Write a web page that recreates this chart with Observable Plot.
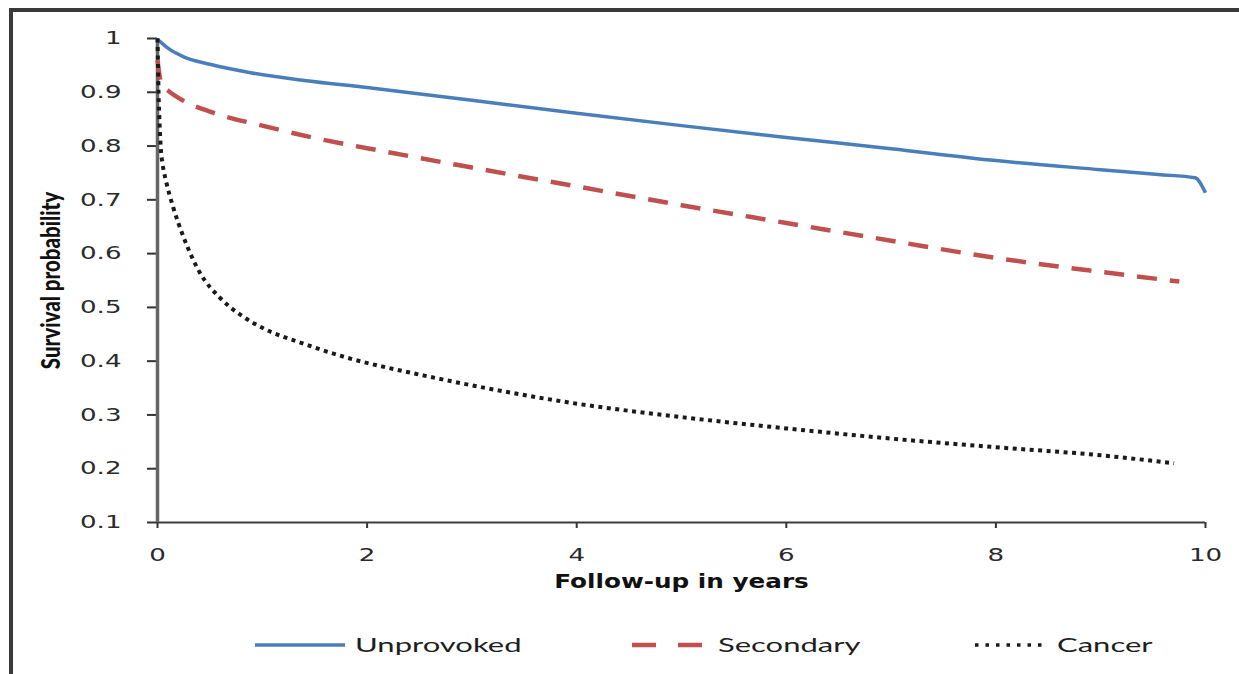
<!DOCTYPE html>
<html>
<head>
<meta charset="utf-8">
<script src="https://cdn.jsdelivr.net/npm/d3@7"></script>
<script src="https://cdn.jsdelivr.net/npm/@observablehq/plot@0.6"></script>
<style>
  html, body { margin: 0; padding: 0; background: #fff; }
  #wrap { position: relative; width: 1239px; height: 674px; overflow: hidden; background: #fff; }
  #frame { position: absolute; left: 9px; top: 8px; width: 1300px; height: 700px;
           border-top: 4px solid #3a3a3a; border-left: 4px solid #3a3a3a; box-sizing: border-box; }
  #chart { position: absolute; left: 0; top: 0; }
  #legend { position: absolute; left: 0; top: 630px; width: 1239px; height: 30px; }
  .lg-item { position: absolute; top: 0; height: 30px; }
  .lg-text { position: absolute; top: 2px; font-family: Lato, "Open Sans", sans-serif; font-size: 20px;
             color: #1e1e1e; white-space: nowrap; transform-origin: left center; transform: scaleX(1.55); }
</style>
</head>
<body>
<div id="wrap">
  <div id="frame"></div>
  <div id="chart"></div>
  <div id="legend"></div>
</div>
<script>
// ---- data ----
const seriesNames = ["Unprovoked", "Secondary", "Cancer"];

const unprovokedYears = [0, 0.05, 0.1, 0.25, 0.5, 0.9, 1.4, 2, 3, 4, 5, 6, 7, 8, 9, 9.55, 9.9, 10];
const unprovokedSurv  = [0.998, 0.99, 0.982, 0.966, 0.952, 0.936, 0.922, 0.909, 0.885, 0.861, 0.838, 0.816, 0.795, 0.773, 0.756, 0.747, 0.741, 0.713];

const secondaryYears = [0, 0.02, 0.05, 0.1, 0.25, 0.5, 1, 1.5, 2, 3, 4, 5, 6, 7, 8, 9, 9.75];
const secondarySurv  = [0.96, 0.93, 0.912, 0.903, 0.884, 0.864, 0.838, 0.815, 0.796, 0.76, 0.725, 0.69, 0.657, 0.624, 0.592, 0.566, 0.548];

const cancerYears = [0, 0.005, 0.01, 0.02, 0.03, 0.05, 0.08, 0.15, 0.25, 0.4, 0.6, 0.8, 1, 1.4, 1.8, 2.5, 3, 4, 5, 6, 7, 8, 9, 9.7];
const cancerSurv  = [1, 0.95, 0.9, 0.84, 0.8, 0.765, 0.736, 0.686, 0.63, 0.566, 0.517, 0.485, 0.462, 0.432, 0.407, 0.375, 0.355, 0.321, 0.296, 0.275, 0.256, 0.24, 0.225, 0.21];

const xTickValues = [0, 2, 4, 6, 8, 10];
const yTickValues = [0.1, 0.2, 0.3, 0.4, 0.5, 0.6, 0.7, 0.8, 0.9, 1];
const xTitle = "Follow-up in years";
const yTitle = "Survival probability";

// ---- styles ----
const styles = {
  Unprovoked: {stroke: "#4A7EBB", strokeWidth: 3.5, dash: null},
  Secondary:  {stroke: "#C0504D", strokeWidth: 4.5, dash: "20,13"},
  Cancer:     {stroke: "#1a1a1a", strokeWidth: 4, dash: "4,4.5"}
};

const toRows = (name, xs, ys) => xs.map((x, i) => ({series: name, year: x, surv: ys[i]}));
const data = [
  ...toRows("Unprovoked", unprovokedYears, unprovokedSurv),
  ...toRows("Secondary", secondaryYears, secondarySurv),
  ...toRows("Cancer", cancerYears, cancerSurv)
];

const lineMarks = seriesNames.map(name => Plot.line(data.filter(d => d.series === name), {
  x: "year", y: "surv", curve: "monotone-x",
  stroke: styles[name].stroke, strokeWidth: styles[name].strokeWidth,
  strokeDasharray: styles[name].dash || undefined,
  strokeLinecap: "butt", strokeLinejoin: "round"
}));

const chart = Plot.plot({
  width: 1239, height: 610,
  marginLeft: 157, marginRight: 34, marginTop: 38, marginBottom: 88,
  style: {fontFamily: "'DejaVu Sans', Verdana, sans-serif", fontSize: "18px", color: "#333", background: "transparent", overflow: "visible"},
  x: {domain: [0, 10]},
  y: {domain: [0.1, 1]},
  marks: [
    Plot.axisY(yTickValues, {tickSize: 10, tickPadding: 26, label: null, fontSize: 18, stroke: "#333", strokeWidth: 2, fill: "#2a2a2a", tickFormat: d => String(d)}),
    Plot.axisX(xTickValues, {tickSize: 6, tickPadding: 20, label: null, fontSize: 18, stroke: "#333", strokeWidth: 2, fill: "#2a2a2a", tickFormat: d => String(d)}),
    Plot.ruleY([0.1], {stroke: "#3c3c3c", strokeWidth: 2}),
    Plot.ruleX([0], {stroke: "#666", strokeWidth: 3.5}),
    ...lineMarks,
    Plot.text([xTitle], {frameAnchor: "bottom", dy: 65, textAnchor: "middle", fontWeight: "bold", fontSize: 19, fill: "#111"}),
    Plot.text([yTitle], {frameAnchor: "left", dx: -106, rotate: -90, textAnchor: "middle", fontFamily: "Lato, sans-serif", fontWeight: 900, fontSize: 20.5, fill: "#111"})
  ]
});
document.getElementById("chart").appendChild(chart);

// widen the glyphs horizontally like the reference image
function stretch(sel, sx, sy) {
  chart.querySelectorAll(sel).forEach(t => {
    const tr = t.getAttribute("transform");
    if (tr) t.setAttribute("transform", `${tr} scale(${sx},${sy})`);
    else {
      const x = +t.getAttribute("x") || 0, y = +t.getAttribute("y") || 0;
      t.removeAttribute("x"); t.removeAttribute("y");
      t.setAttribute("transform", `translate(${x},${y}) scale(${sx},${sy})`);
    }
  });
}
stretch('g[aria-label$="tick label"] text', 1.45, 1);
chart.querySelectorAll('g[aria-label="text"]').forEach(g => {
  g.querySelectorAll("text").forEach(t => {
    const tr = t.getAttribute("transform") || "";
    if (t.textContent === xTitle) t.setAttribute("transform", tr + " scale(1.3,1)");
    if (t.textContent === yTitle) t.setAttribute("transform", tr + " scale(1,1.25)");
  });
});

// ---- legend (below the plot) ----
const legendLayout = {
  Unprovoked: {sx: 255, sw: 90, tx: 355},
  Secondary:  {sx: 632, sw: 70, tx: 718},
  Cancer:     {sx: 975, sw: 73, tx: 1057}
};
const legend = document.getElementById("legend");
seriesNames.forEach(name => {
  const L = legendLayout[name], s = styles[name];
  const svg = d3.create("svg").attr("class", "lg-item").attr("width", L.sw).attr("height", 30)
    .style("left", L.sx + "px");
  svg.append("line").attr("x1", 0).attr("x2", L.sw).attr("y1", 15).attr("y2", 15)
    .attr("stroke", s.stroke).attr("stroke-width", name === "Cancer" ? 3.5 : s.strokeWidth)
    .attr("stroke-dasharray", name === "Secondary" ? "24,22" : name === "Cancer" ? "3.5,7" : null);
  legend.appendChild(svg.node());
  const span = document.createElement("span");
  span.className = "lg-text";
  span.style.left = L.tx + "px";
  span.textContent = name;
  legend.appendChild(span);
});
</script>
</body>
</html>
